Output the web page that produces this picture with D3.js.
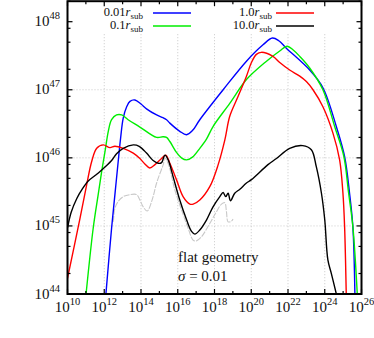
<!DOCTYPE html>
<html><head><meta charset="utf-8">
<script src="https://cdn.jsdelivr.net/npm/d3@7"></script>
<style>body{margin:0;background:#fff}svg{display:block}text{font-family:"Liberation Serif",serif;fill:#111}</style>
</head><body><svg id="c" width="374" height="338"></svg>
<script>
// values as [log10(nu), log10(L)]
const blue01 = [[12.09,44.0],[12.40,44.97],[12.58,45.46],[12.76,45.95],[12.89,46.29],[13.03,46.58],[13.22,46.75],[13.40,46.83],[13.67,46.85],[14.0,46.79],[14.30,46.72],[14.85,46.63],[15.20,46.59],[15.39,46.56],[15.57,46.51],[16.11,46.39],[16.48,46.34],[16.8,46.40],[17.20,46.56],[18.47,47.0],[19.74,47.42],[20.64,47.66],[21.15,47.76],[21.5,47.72],[21.91,47.61],[23.18,47.29],[23.90,47.03],[24.63,46.46],[25.08,46.02],[25.35,45.48],[25.53,44.99],[25.64,44.0]];
const green01 = [[11.01,44.0],[11.40,44.97],[11.67,45.46],[11.86,45.80],[12.04,46.09],[12.22,46.39],[12.40,46.56],[12.67,46.63],[12.95,46.63],[13.30,46.56],[13.90,46.46],[14.85,46.30],[15.2,46.31],[15.39,46.30],[15.57,46.24],[15.93,46.08],[16.2,46.00],[16.48,45.97],[16.8,46.01],[17.20,46.14],[17.57,46.28],[17.92,46.46],[18.83,46.80],[19.74,47.15],[20.83,47.42],[21.55,47.57],[21.95,47.64],[22.3,47.58],[22.64,47.49],[23.18,47.32],[23.90,47.0],[24.54,46.46],[25.04,46.02],[25.30,45.48],[25.53,44.99],[25.77,44.0]];
const red10 = [[10.0,44.23],[10.68,45.11],[11.04,45.60],[11.32,45.95],[11.59,46.14],[11.95,46.19],[12.31,46.15],[12.58,46.17],[13.03,46.14],[13.58,46.07],[13.94,45.99],[14.21,45.91],[14.48,45.85],[14.76,45.90],[15.12,45.99],[15.35,46.04],[15.57,45.92],[15.93,45.68],[16.29,45.43],[16.66,45.32],[16.84,45.32],[17.20,45.38],[17.75,45.58],[18.20,45.90],[18.56,46.26],[18.83,46.61],[19.28,46.90],[19.74,47.20],[20.01,47.40],[20.28,47.52],[20.55,47.55],[21.18,47.49],[21.55,47.40],[22.09,47.29],[22.64,47.20],[23.0,47.12],[23.36,47.0],[23.90,46.75],[24.45,46.36],[24.81,45.97],[24.99,45.48],[25.08,44.99],[25.17,44.0]];
const black100 = [[10.0,44.97],[10.2,45.2],[10.5,45.40],[10.8,45.54],[11.13,45.66],[11.5,45.74],[11.77,45.80],[12.1,45.88],[12.40,45.96],[12.67,46.06],[13.03,46.14],[13.58,46.19],[13.90,46.17],[14.30,46.07],[14.66,45.96],[14.94,45.92],[15.12,45.93],[15.30,46.04],[15.48,45.97],[15.75,45.72],[16.11,45.38],[16.48,45.09],[16.75,44.92],[16.93,44.88],[17.20,44.94],[17.57,45.09],[17.92,45.28],[18.29,45.43],[18.47,45.49],[18.61,45.43],[18.74,45.48],[18.87,45.37],[19.10,45.48],[19.38,45.54],[19.74,45.63],[20.01,45.68],[20.91,45.90],[21.37,45.99],[22.09,46.14],[22.8,46.18],[23.27,46.12],[23.54,45.87],[23.82,45.48],[24.0,45.09],[24.17,44.5],[24.36,44.30],[24.63,44.0]];
const grayRef = [[12.50,45.06],[12.58,45.26],[12.76,45.36],[13.03,45.43],[13.40,45.46],[13.76,45.46],[13.94,45.38],[14.12,45.28],[14.34,45.22],[14.58,45.36],[14.85,45.63],[15.03,45.77],[15.21,45.90],[15.30,46.0],[15.5,45.9],[15.84,45.53],[16.20,45.24],[16.56,44.97],[16.84,44.79],[17.02,44.78],[17.29,44.84],[17.75,45.04],[18.11,45.21],[18.38,45.32],[18.56,45.34],[18.65,45.21],[18.74,45.06],[18.92,45.07],[19.01,45.10]];
const seriesNames = ["0.01", "0.1", "1.0", "10.0"];
const xTickExps = [10,12,14,16,18,20,22,24,26];
const yTickExps = [44,45,46,47,48];

const svg = d3.select("#c");
const L = 67.5, R = 361.5, T = 1.2, B = 294;
const x = d3.scaleLog().domain([1e10,1e26]).range([L,R]);
const y = d3.scaleLog().domain([1e44,2e48]).range([B,T]);

svg.append("defs").append("clipPath").attr("id","clip").append("rect")
  .attr("x",L).attr("y",T).attr("width",R-L).attr("height",B-T);

// grid
const g = svg.append("g");
xTickExps.slice(1,-1).forEach(e=>{
  g.append("line").attr("x1",x(10**e)).attr("x2",x(10**e)).attr("y1",T).attr("y2",B)
   .attr("stroke","#bbb").attr("stroke-width",0.8).attr("stroke-dasharray","1,2");
});
yTickExps.slice(1).forEach(e=>{
  g.append("line").attr("x1",L).attr("x2",R).attr("y1",y(10**e)).attr("y2",y(10**e))
   .attr("stroke","#bbb").attr("stroke-width",0.8).attr("stroke-dasharray","1,2");
});

// curves
const line = d3.line().x(d=>x(10**d[0])).y(d=>y(10**d[1])).curve(d3.curveCatmullRom.alpha(0.5));
const cg = svg.append("g").attr("clip-path","url(#clip)");
cg.append("path").attr("d",line(grayRef)).attr("fill","none").attr("stroke","#c8c8c8").attr("stroke-width",1.1).attr("stroke-dasharray","6,1.2");
const series = [[blue01,"#0000ff"],[green01,"#00ee00"],[red10,"#ff0000"],[black100,"#000"]];
series.forEach(([d,c])=>{
  cg.append("path").attr("d",line(d)).attr("fill","none").attr("stroke",c).attr("stroke-width",1.4);
});

// legend box
svg.append("rect").attr("x",73).attr("y",3).attr("width",284).attr("height",30).attr("fill","#fff");
const legPos = [[143,13,153,191],[143,26,153,191],[272,13,276,314],[272,26,276,314]];
const legCol = ["#0000ff","#00ee00","#ff0000","#000"];
seriesNames.forEach((n,i)=>{
  const [tx,ly,lx1,lx2] = legPos[i];
  const t = svg.append("text").attr("x",tx).attr("y",ly+3).attr("text-anchor","end").style("font-size","12.5px");
  t.append("tspan").text(n);
  t.append("tspan").text("r").style("font-style","italic");
  t.append("tspan").text("sub").attr("dy",2.5).style("font-size","9px");
  svg.append("line").attr("x1",lx1).attr("x2",lx2).attr("y1",ly).attr("y2",ly).attr("stroke",legCol[i]).attr("stroke-width",1.4);
});

// ticks
const ax = svg.append("g").attr("stroke","#000");
for(let e=10;e<=26;e++){
  const px = x(10**e), len = e%2===0?5:3;
  ax.append("line").attr("x1",px).attr("x2",px).attr("y1",B).attr("y2",B-len).attr("stroke-width",1.2);
  ax.append("line").attr("x1",px).attr("x2",px).attr("y1",T).attr("y2",T+len).attr("stroke-width",1.2);
}
for(let e=44;e<=48;e++){
  [1,2,5,8].forEach(m=>{
    const v = m*10**e; if(v>2e48) return;
    const py = y(v), len = m===1?5:3;
    ax.append("line").attr("x1",L).attr("x2",L+len).attr("y1",py).attr("y2",py).attr("stroke-width",1.2);
    ax.append("line").attr("x1",R).attr("x2",R-len).attr("y1",py).attr("y2",py).attr("stroke-width",1.2);
  });
}
svg.append("rect").attr("x",L).attr("y",T).attr("width",R-L).attr("height",B-T).attr("fill","none").attr("stroke","#000").attr("stroke-width",2);

// tick labels
xTickExps.forEach(e=>{
  const t = svg.append("text").attr("x",x(10**e)).attr("y",312).attr("text-anchor","middle").style("font-size","15px");
  t.append("tspan").text("10");
  t.append("tspan").text(e).attr("dy",-7).style("font-size","10.5px");
});
yTickExps.forEach(e=>{
  const t = svg.append("text").attr("x",60).attr("y",y(10**e)+4.5).attr("text-anchor","end").style("font-size","15px");
  t.append("tspan").text("10");
  t.append("tspan").text(e).attr("dy",-7).style("font-size","10.5px");
});

// annotation
svg.append("text").attr("x",178).attr("y",262).style("font-size","15px").text("flat geometry");
const s = svg.append("text").attr("x",178).attr("y",281).style("font-size","15px");
s.append("tspan").text("σ").style("font-style","italic");
s.append("tspan").text(" = 0.01");
</script></body></html>
